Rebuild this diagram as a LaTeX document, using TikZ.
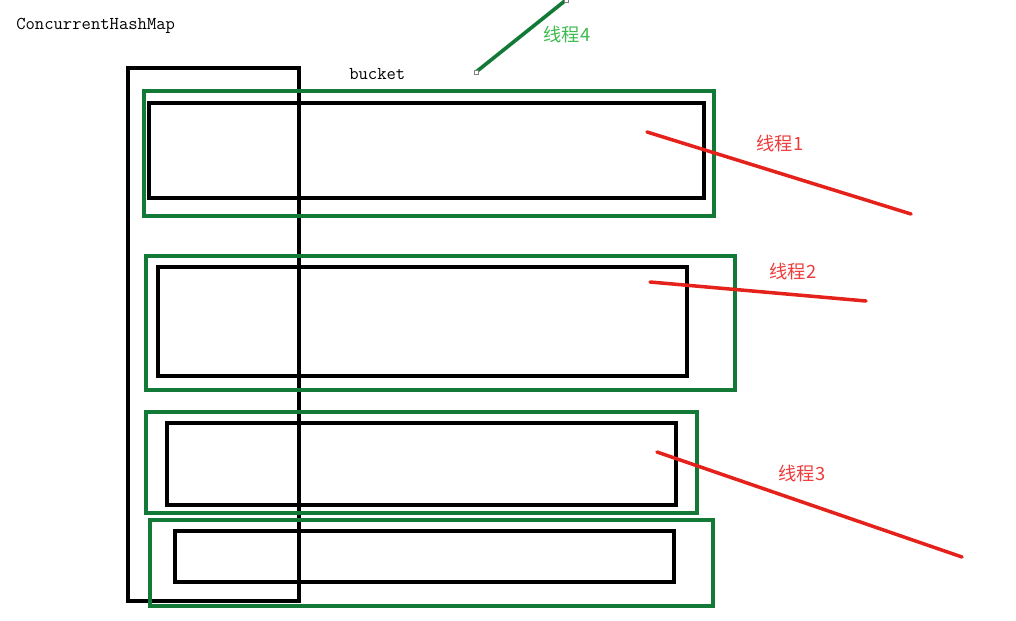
\documentclass[tikz,border=0pt]{standalone}
\usepackage{fontspec}
\newfontfamily\cjkfont{Noto Sans CJK SC}
\usepackage{xcolor}
\usetikzlibrary{positioning,calc}
\definecolor{BoxGreen}{HTML}{127A36}
\definecolor{LineRed}{HTML}{E4221B}
\definecolor{LabelRed}{HTML}{EE3B3B}
\definecolor{LabelGreen}{HTML}{3DBB4E}

\begin{document}
\begin{tikzpicture}[
      x=0.25mm, y=-0.25mm,
      mapbox/.style = {draw=black, line width=2.8pt},
      segbox/.style = {draw=BoxGreen, line width=2.5pt},
      bucketbox/.style = {draw=black, line width=2.8pt},
      thread/.style = {draw=LineRed, line width=2.5pt, line cap=round},
      label/.style = {font=\cjkfont\fontsize{13}{15}\selectfont, text=LabelRed, inner sep=0pt},
      mono/.style = {font=\ttfamily\fontsize{12.9}{15}\selectfont, inner sep=0pt, anchor=west},
      handle/.style = {draw=gray, fill=white, line width=0.4pt, minimum size=3pt, inner sep=0pt}
    ]
    \useasboundingbox (0,0) rectangle (1016,620);
    % table outline
    \draw [mapbox] (128,68) rectangle (299,601);
    % segments
    \draw [segbox] (144,91) rectangle (714,216);
    \draw [segbox] (146,256) rectangle (735,390);
    \draw [segbox] (146,412) rectangle (697,513);
    \draw [segbox] (150,520) rectangle (713,606);
    % buckets
    \draw [bucketbox] (149,103) rectangle (704,198);
    \draw [bucketbox] (158,267) rectangle (687,376);
    \draw [bucketbox] (167,423) rectangle (676,505);
    \draw [bucketbox] (175,531) rectangle (674,582);
    % texts
    \node (map) [mono] at (16,26) {ConcurrentHashMap};
    \node (bucket) [mono] at (349,74) {bucket};
    \node (t1) [label] at (780,144) {线程1};
    \node (t2) [label] at (793,272) {线程2};
    \node (t3) [label] at (802,474) {线程3};
    \node (t4) [label, text=LabelGreen] at (567,35) {线程4};
    % threads
    \coordinate (a1) at (647,132); \coordinate (b1) at (911,214);
    \coordinate (a2) at (650,282); \coordinate (b2) at (866,301);
    \coordinate (a3) at (657,452); \coordinate (b3) at (962,557);
    \coordinate (a4) at (476,72);  \coordinate (b4) at (566,0);
    \draw [thread] (a1) -- (b1);
    \draw [thread] (a2) -- (b2);
    \draw [thread] (a3) -- (b3);
    \draw [thread, draw=BoxGreen, line width=2.6pt, line cap=butt] (a4) -- (b4);
    \node (h4) [handle] at (a4) {};
    \node (g4) [handle] at (b4) {};
  \end{tikzpicture}
\end{document}
